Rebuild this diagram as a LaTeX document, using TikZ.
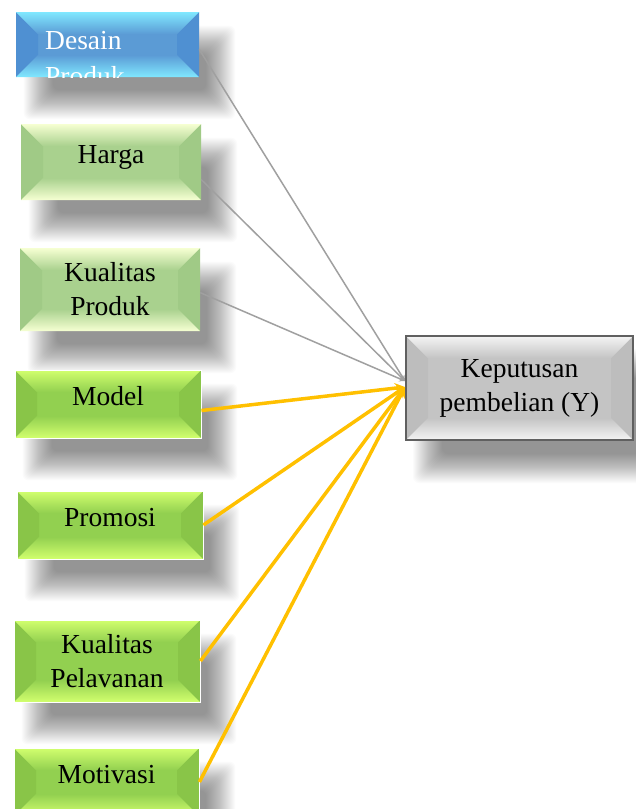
\documentclass[tikz,border=0pt]{standalone}
\usepackage{fontspec}
\setmainfont{Liberation Serif}
\pgfdeclarelayer{background}
\pgfsetlayers{background,main}
\definecolor{bluemain}{HTML}{5B9BD5}
\definecolor{blueside}{HTML}{4F90D2}
\definecolor{bluelight}{HTML}{80E8FF}
\definecolor{palemain}{HTML}{A9D18E}
\definecolor{paleside}{HTML}{A0CA86}
\definecolor{palelight}{HTML}{F6FFD2}
\definecolor{greenmain}{HTML}{92D050}
\definecolor{greenside}{HTML}{89C548}
\definecolor{greenlight}{HTML}{D2FF6E}
\definecolor{greymain}{HTML}{C4C4C4}
\definecolor{greyside}{HTML}{BDBDBD}
\definecolor{greylight}{HTML}{F4F4F4}
\definecolor{greyborder}{HTML}{606060}
\definecolor{linkgrey}{HTML}{A0A0A0}
\definecolor{linkorange}{HTML}{FFC000}
\begin{document}
\begin{tikzpicture}[x=1pt, y=-1pt,
    bevel/.style n args={3}{fill=#1,
        path picture={
            \path (path picture bounding box.south west) coordinate (bsw)
                  (path picture bounding box.north east) coordinate (bne);
            \path ([shift={(22pt,22pt)}]bsw) coordinate (isw)
                  ([shift={(-22pt,-22pt)}]bne) coordinate (ine);
            \fill[#2] (bsw) -- (isw) -- (isw |- ine) -- (bsw |- bne) -- cycle;
            \fill[#2] (bne) -- (ine) -- (ine |- isw) -- (bne |- bsw) -- cycle;
            \shade[top color=#3, bottom color=#1] (bsw |- bne) -- (isw |- ine) -- (ine) -- (bne) -- cycle;
            \shade[top color=#1, bottom color=#3] (bsw) -- (isw) -- (ine |- isw) -- (bne |- bsw) -- cycle;
        }},
    boxtext/.style={align=center, inner sep=0pt, font=\fontsize{27.5}{34}\selectfont},
    box/.style={shape=rectangle, boxtext},
    oneline/.style={text depth=16pt},
    bluebox/.style={box, bevel={bluemain}{blueside}{bluelight}},
    palebox/.style={box, bevel={palemain}{paleside}{palelight}},
    greenbox/.style={box, bevel={greenmain}{greenside}{greenlight}, draw=white, line width=0.8pt},
    greybox/.style={box, bevel={greymain}{greyside}{greylight},
        draw=greyborder, line width=2pt},
    shadowlayer/.style={fill=black, opacity=0.014, rounded corners=6pt},
    greylink/.style={draw=linkgrey, line width=1.5pt, -stealth},
    orangelink/.style={draw=linkorange, line width=3.5pt, -stealth}]
    \useasboundingbox (0,0) rectangle (636,809);
    \node[bluebox, minimum width=183, minimum height=65] (desain) at (107.5,44.5) {};
    \begin{scope}
        \clip (desain.north west) rectangle (desain.south east);
        \node[boxtext, text=white, align=left, anchor=north west] (desainlabel)
            at (45,31) {Desain\\[2pt]Produk};
    \end{scope}
    \node[palebox, oneline, minimum width=180, minimum height=76] (harga) at (111,162) {Harga};
    \node[palebox, minimum width=180, minimum height=83] (kprod) at (110,289.5) {Kualitas\\Produk};
    \node[greenbox, oneline, minimum width=186, minimum height=68] (model) at (108,404) {Model};
    \node[greenbox, oneline, minimum width=186, minimum height=68] (promosi) at (110,525) {Promosi};
    \node[greenbox, minimum width=186, minimum height=82] (kpel) at (107,661) {Kualitas\\Pelavanan};
    \node[greenbox, oneline, minimum width=185, minimum height=68] (motivasi) at (106.5,782) {Motivasi};
    \node[greybox, minimum width=227, minimum height=104] (keputusan) at (519.5,388) {Keputusan\\pembelian (Y)};

    \begin{pgfonlayer}{background}
        \fill[white] (0,0) rectangle (636,809);
        \foreach \n in {desain,harga,kprod,model,promosi,kpel,motivasi,keputusan}
            \foreach \i in {0,...,29}
                \fill[shadowlayer]
                    ([shift={({(8+\i)*1pt},{(-14-\i)*1pt})}]\n.north west) rectangle
                    ([shift={({(36-\i)*1pt},{(-42+\i)*1pt})}]\n.south east);
    \end{pgfonlayer}

    \draw[greylink] (desain.-3) -- ([yshift=7pt]keputusan.west);
    \draw[greylink] (harga.-11) -- ([yshift=7pt]keputusan.west);
    \draw[greylink] (kprod.-2) -- ([yshift=7pt]keputusan.west);
    \draw[orangelink] (model.-4) -- ([yshift=1pt]keputusan.west);
    \draw[orangelink] (promosi.east) -- ([yshift=1pt]keputusan.west);
    \draw[orangelink] (kpel.east) -- ([yshift=1pt]keputusan.west);
    \draw[orangelink] (motivasi.east) -- ([yshift=1pt]keputusan.west);
\end{tikzpicture}
\end{document}
